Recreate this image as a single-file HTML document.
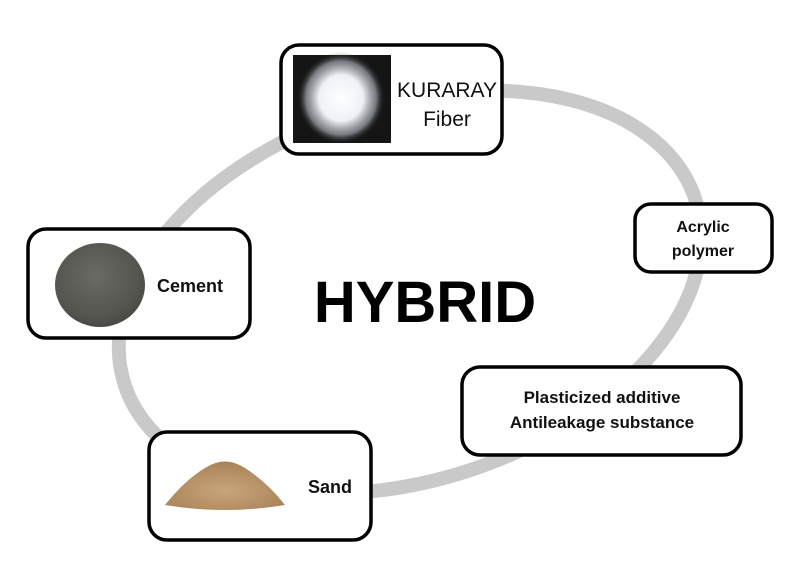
<!DOCTYPE html>
<html><head><meta charset="utf-8"><style>
html,body{margin:0;padding:0;background:#fff;}
svg{display:block;font-family:"Liberation Sans","DejaVu Sans",sans-serif;}
</style></head><body>
<svg width="800" height="574" viewBox="0 0 800 574" xmlns="http://www.w3.org/2000/svg">
<defs>
<radialGradient id="fib" cx="50%" cy="50%" r="50%">
<stop offset="0" stop-color="#ffffff"/><stop offset="0.5" stop-color="#eef1f5"/><stop offset="0.8" stop-color="#b8bec6" stop-opacity="0.6"/><stop offset="1" stop-color="#151515" stop-opacity="0"/>
</radialGradient>
<radialGradient id="cem" cx="45%" cy="40%" r="60%">
<stop offset="0" stop-color="#6a6a66"/><stop offset="0.8" stop-color="#55554f"/><stop offset="1" stop-color="#4a4a45"/>
</radialGradient>
<radialGradient id="snd" cx="50%" cy="60%" r="60%">
<stop offset="0" stop-color="#c8a57a"/><stop offset="1" stop-color="#a98357"/>
</radialGradient>
</defs>
<ellipse cx="410" cy="292" rx="300" ry="188" transform="rotate(-18 410 292)" fill="none" stroke="#c9c9c9" stroke-width="14"/>

<!-- Kuraray -->
<rect x="281" y="45" width="221" height="109" rx="18" fill="#fff" stroke="#000" stroke-width="3.5"/>
<rect x="293" y="55" width="98" height="88" fill="#151515"/>
<ellipse cx="341" cy="98" rx="44" ry="46" fill="url(#fib)"/>
<text x="447" y="97" font-size="21" text-anchor="middle" fill="#111">KURARAY</text>
<text x="447" y="126" font-size="21" text-anchor="middle" fill="#111">Fiber</text>

<!-- Acrylic -->
<rect x="635" y="204" width="137" height="68" rx="16" fill="#fff" stroke="#000" stroke-width="3.5"/>
<text x="703" y="232" font-size="16" font-weight="bold" text-anchor="middle" fill="#111">Acrylic</text>
<text x="703" y="256" font-size="16" font-weight="bold" text-anchor="middle" fill="#111">polymer</text>

<!-- Cement -->
<rect x="28" y="229" width="222" height="109" rx="18" fill="#fff" stroke="#000" stroke-width="3.5"/>
<ellipse cx="100" cy="285" rx="45" ry="42" fill="url(#cem)"/>
<text x="190" y="292" font-size="18" font-weight="bold" text-anchor="middle" fill="#111">Cement</text>

<!-- HYBRID -->
<text x="425" y="322" font-size="58" font-weight="bold" text-anchor="middle" fill="#000">HYBRID</text>

<!-- Plasticized -->
<rect x="462" y="367" width="279" height="88" rx="18" fill="#fff" stroke="#000" stroke-width="3.5"/>
<text x="602" y="403" font-size="17" font-weight="bold" text-anchor="middle" fill="#111">Plasticized additive</text>
<text x="602" y="428" font-size="17" font-weight="bold" text-anchor="middle" fill="#111">Antileakage substance</text>

<!-- Sand -->
<rect x="149" y="432" width="222" height="108" rx="18" fill="#fff" stroke="#000" stroke-width="3.5"/>
<path d="M165 505 Q185 480 205 468 Q225 455 245 468 Q268 483 285 505 Q225 515 165 505 Z" fill="url(#snd)"/>
<text x="330" y="493" font-size="18" font-weight="bold" text-anchor="middle" fill="#111">Sand</text>
</svg>
</body></html>
